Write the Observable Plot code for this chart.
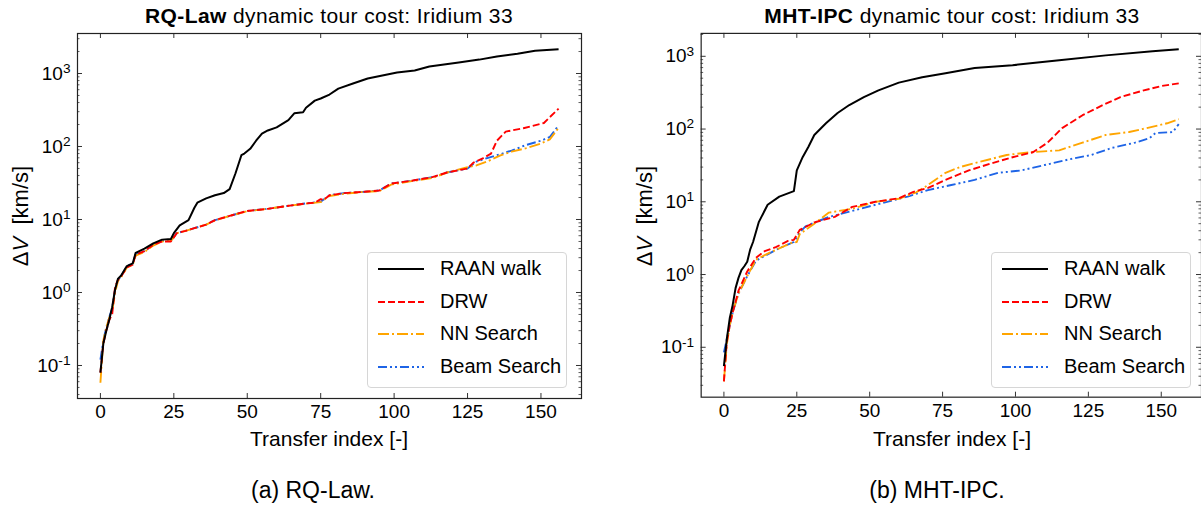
<!DOCTYPE html>
<html><head><meta charset="utf-8">
<script src="https://cdn.jsdelivr.net/npm/d3@7"></script>
<script src="https://cdn.jsdelivr.net/npm/@observablehq/plot@0.6"></script>
<style>
html,body{margin:0;padding:0;background:#fff}
body{width:1201px;height:508px;overflow:hidden;position:relative;font-family:"Liberation Sans",Arial,sans-serif;color:#000}
.abs{position:absolute;white-space:nowrap}
.panel{position:absolute;top:0}
.legend{position:absolute;border:1px solid #d6d6d6;border-radius:4px;background:rgba(255,255,255,0.85);box-sizing:border-box}
</style></head><body>
<script>
// ---------- shared axis data ----------
const xTicks = [0, 25, 50, 75, 100, 125, 150];
const yMajor = [0.1, 1, 10, 100, 1000];
const seriesNames = ["RAAN walk", "DRW", "NN Search", "Beam Search"];
const seriesColors = ["#000000", "#ff0000", "#ffa500", "#1e64e6"];
const seriesDash = ["none", "7,3", "11,3,2,3", "9,3,2,3,2,3"];

// ---------- (a) RQ-Law ----------
const rqRaanIdx = [0,1,2,3,4,5,6,7,9,11,12,15,18,21,24,25,27,30,32,33,36,39,42,44,46,48,49,51,53,55,57,60,64,66,69,70,73,75,78,81,86,91,96,101,107,112,117,122,129,135,142,148,156];
const rqRaanVal = [0.08,0.2,0.3,0.42,0.63,1.1,1.55,1.7,2.3,2.5,3.5,4.0,4.7,5.3,5.4,6.5,8.3,9.8,14.5,17,19.5,21.5,23,26,43,76,80,93,120,150,166,183,230,285,295,340,425,455,515,620,730,855,940,1030,1100,1250,1330,1410,1550,1710,1870,2050,2150];
const rqDrwIdx = [0,1,2,3,4,5,6,7,9,11,12,15,18,21,24,26,29,32,36,39,44,50,57,63,70,73,75,76,78,83,90,95,99,106,113,118,125,127,130,133,135,138,144,151,156];
const rqDrwVal = [0.08,0.2,0.3,0.42,0.5,1.2,1.5,1.65,2.2,2.4,3.3,3.7,4.5,5.0,5.0,6.5,7.0,7.6,8.5,9.8,11.2,13.1,14,15.2,16.6,17,19,18.5,21.5,23,24,25,31,34,38,44,50,60,68,80,120,160,178,210,330];
const rqNnIdx = [0,1,2,3,4,5,6,7,9,11,12,15,18,21,24,26,29,32,36,39,44,50,57,63,70,75,78,83,90,95,99,106,113,118,125,128,132,136,140,145,150,153,156];
const rqNnVal = [0.058,0.22,0.33,0.45,0.55,1.0,1.45,1.6,2.2,2.4,3.2,3.6,4.4,5.0,5.1,6.5,7.0,7.6,8.5,9.7,11.2,13,14,15.2,16.5,17.3,21,22.5,24,24.5,30,33.5,37,44,52,55,63,75,85,95,110,125,180];
const rqBeamIdx = [0,1,2,3,4,5,6,7,9,11,12,15,18,21,24,26,29,32,36,39,44,50,57,63,70,75,78,83,90,95,99,106,113,118,125,128,132,136,140,145,150,153,156];
const rqBeamVal = [0.12,0.22,0.33,0.46,0.6,1.1,1.5,1.65,2.3,2.5,3.3,3.7,4.5,5.1,5.1,6.5,7.0,7.6,8.5,9.8,11.2,13.1,14,15.2,16.6,17.5,21.5,23,24,25,31,34,38,44,50,62,70,78,88,105,120,135,195];

// ---------- (b) MHT-IPC ----------
const mhtRaanIdx = [0,1,2,3,4,5,6,7,8,9,10,12,15,19,24,25,27,29,31,35,39,43,48,53,60,68,76,86,99,115,131,147,156];
const mhtRaanVal = [0.055,0.13,0.25,0.38,0.65,0.9,1.15,1.3,1.5,2.2,2.8,5.3,9.1,11.8,14,27,41,57,83,120,166,214,275,340,435,515,585,690,755,880,1030,1170,1250];
const mhtDrwIdx = [0,1,2,3,5,8,11,14,18,22,24,26,31,38,44,52,60,65,70,76,84,92,99,106,111,116,123,130,136,144,150,156];
const mhtDrwVal = [0.034,0.12,0.2,0.3,0.6,1.1,1.7,2.1,2.4,2.9,3.0,4.1,5.2,6.2,8.5,10,11.2,13.7,15.5,20,27,34,41,48,65,103,155,214,275,340,390,425];
const mhtNnIdx = [0,1,2,3,5,8,11,14,18,23,25,26,31,36,44,52,60,66,69,76,81,86,97,105,115,123,131,139,145,152,156];
const mhtNnVal = [0.034,0.11,0.2,0.3,0.55,0.95,1.6,1.85,2.2,2.7,2.8,3.6,5.0,7.1,8,10,11,13.5,16,25,30,34,44,48,51,65,83,91,103,120,137];
const mhtBeamIdx = [0,1,2,3,5,8,11,14,18,24,26,28,36,44,52,63,70,78,86,94,102,110,118,126,133,141,146,148,154,156];
const mhtBeamVal = [0.085,0.13,0.2,0.3,0.55,0.95,1.55,1.8,2.2,2.8,3.8,4.6,6.2,7.5,9.1,11.8,14.5,17,20,25,27,32,38,44,55,65,75,88,91,117];

const FONT = '"Liberation Sans", Arial, sans-serif';
const body = document.body;

function addDiv(html, css) {
  const d = document.createElement("div");
  d.className = "abs";
  d.innerHTML = html;
  Object.assign(d.style, css);
  body.appendChild(d);
  return d;
}

function panel(cfg) {
  const svgH = 508, mT = 33, mB = 110;
  const innerW = cfg.width - cfg.marginLeft - cfg.marginRight;
  const innerH = svgH - mT - mB;
  const xDomain = [-7.8, 163.8];
  const minor = [];
  for (const d of [0.01, 0.1, 1, 10, 100, 1000]) for (let k = 2; k <= 9; k++) {
    const v = d * k; if (v > cfg.yDomain[0] && v < cfg.yDomain[1]) minor.push(v);
  }
  const lines = cfg.series.map((s, j) => Plot.line(d3.zip(s[0], s[1]).map(([i, v]) => ({i, v})), {
    x: "i", y: "v", stroke: seriesColors[j], strokeWidth: j === 0 ? 2 : 1.9,
    strokeDasharray: seriesDash[j] === "none" ? null : seriesDash[j], strokeLinejoin: "round", strokeLinecap: "butt"
  }));
  const tickStroke = "#333";
  const svg = Plot.plot({
    width: cfg.width, height: svgH,
    marginTop: mT, marginBottom: mB, marginLeft: cfg.marginLeft, marginRight: cfg.marginRight,
    style: {fontFamily: FONT, fontSize: "19px", color: "#000", background: "transparent", overflow: "visible"},
    x: {domain: xDomain},
    y: {type: "log", domain: cfg.yDomain},
    marks: [
      ...lines.reverse(),
      Plot.tickX(xTicks, {x: d => d, insetTop: innerH - 5, stroke: tickStroke, strokeWidth: 1}),
      Plot.tickX(xTicks, {x: d => d, insetBottom: innerH - 5, stroke: tickStroke, strokeWidth: 1}),
      Plot.tickY(yMajor.filter(v => v > cfg.yDomain[0] && v < cfg.yDomain[1]), {y: d => d, insetRight: innerW - 5, stroke: tickStroke}),
      Plot.tickY(yMajor.filter(v => v > cfg.yDomain[0] && v < cfg.yDomain[1]), {y: d => d, insetLeft: innerW - 5, stroke: tickStroke}),
      Plot.tickY(minor, {y: d => d, insetRight: innerW - 2.5, stroke: tickStroke, strokeWidth: 0.8}),
      Plot.tickY(minor, {y: d => d, insetLeft: innerW - 2.5, stroke: tickStroke, strokeWidth: 0.8}),
      Plot.axisX({ticks: xTicks, tickSize: 0, tickPadding: 6, fontSize: 19, label: null}),
      Plot.axisY({ticks: yMajor, tickSize: 0, tickPadding: 7, fontSize: 19, label: null,
        tickFormat: d => "10^" + Math.round(Math.log10(d))}),
      Plot.frame({stroke: "#222", strokeWidth: 1.2})
    ]
  });
  const wrap = document.createElement("div");
  wrap.className = "panel";
  wrap.style.left = cfg.left + "px";
  wrap.appendChild(svg);
  body.appendChild(wrap);
  // superscript exponents
  d3.select(svg).selectAll('g[aria-label="y-axis tick label"] text').each(function () {
    const t = d3.select(this);
    const s = t.text();
    const k = s.split("^")[1];
    t.text(null);
    t.append("tspan").text("10");
    t.append("tspan").attr("dy", "-0.5em").attr("font-size", "0.72em").text(k);
  });

  const fx = cfg.left + cfg.marginLeft + innerW / 2;
  addDiv(cfg.title, {left: fx + "px", top: "5px", fontSize: "21px", lineHeight: "21px", letterSpacing: "0.4px", transform: "translateX(-50%)"});
  addDiv("Transfer index [-]", {left: fx + "px", top: "428px", fontSize: "21px", lineHeight: "21px", transform: "translateX(-50%)"});
  addDiv("&Delta;<i>V</i> &nbsp;[km/s]", {left: cfg.ylabX + "px", top: "216px", fontSize: "22px", lineHeight: "22px",
    transform: "translate(-50%,-50%) rotate(-90deg)"});
  addDiv(cfg.caption, {left: cfg.capX + "px", top: "479px", fontSize: "23px", lineHeight: "23px", transform: "translateX(-50%)"});

  // legend
  const lg = document.createElement("div");
  lg.className = "legend";
  Object.assign(lg.style, {left: cfg.legX + "px", top: "252px", width: "200px", height: "136px"});
  const rows = [16, 49, 81, 114];
  seriesNames.forEach((name, j) => {
    const s = document.createElementNS("http://www.w3.org/2000/svg", "svg");
    s.setAttribute("width", 48); s.setAttribute("height", 10);
    s.style.position = "absolute"; s.style.left = "9px"; s.style.top = (rows[j] - 5) + "px";
    const l = document.createElementNS("http://www.w3.org/2000/svg", "line");
    l.setAttribute("x1", 1); l.setAttribute("x2", 47); l.setAttribute("y1", 5); l.setAttribute("y2", 5);
    l.setAttribute("stroke", seriesColors[j]); l.setAttribute("stroke-width", 2);
    if (seriesDash[j] !== "none") l.setAttribute("stroke-dasharray", seriesDash[j]);
    s.appendChild(l); lg.appendChild(s);
    const t = document.createElement("div");
    t.className = "abs"; t.textContent = name;
    Object.assign(t.style, {left: "72px", top: (rows[j] - 11) + "px", fontSize: "20px", lineHeight: "20px"});
    lg.appendChild(t);
  });
  body.appendChild(lg);
}

panel({
  left: 0, width: 600, marginLeft: 77, marginRight: 19,
  yDomain: [0.0353, 3532],
  series: [[rqRaanIdx, rqRaanVal], [rqDrwIdx, rqDrwVal], [rqNnIdx, rqNnVal], [rqBeamIdx, rqBeamVal]],
  title: "<b>RQ-Law</b> dynamic tour cost: Iridium 33",
  caption: "(a) RQ-Law.", capX: 313, ylabX: 21, legX: 367
});
panel({
  left: 600, width: 603, marginLeft: 101, marginRight: 0,
  yDomain: [0.0206, 2066],
  series: [[mhtRaanIdx, mhtRaanVal], [mhtDrwIdx, mhtDrwVal], [mhtNnIdx, mhtNnVal], [mhtBeamIdx, mhtBeamVal]],
  title: "<b>MHT-IPC</b> dynamic tour cost: Iridium 33",
  caption: "(b) MHT-IPC.", capX: 937, ylabX: 645, legX: 991
});
</script></body></html>
